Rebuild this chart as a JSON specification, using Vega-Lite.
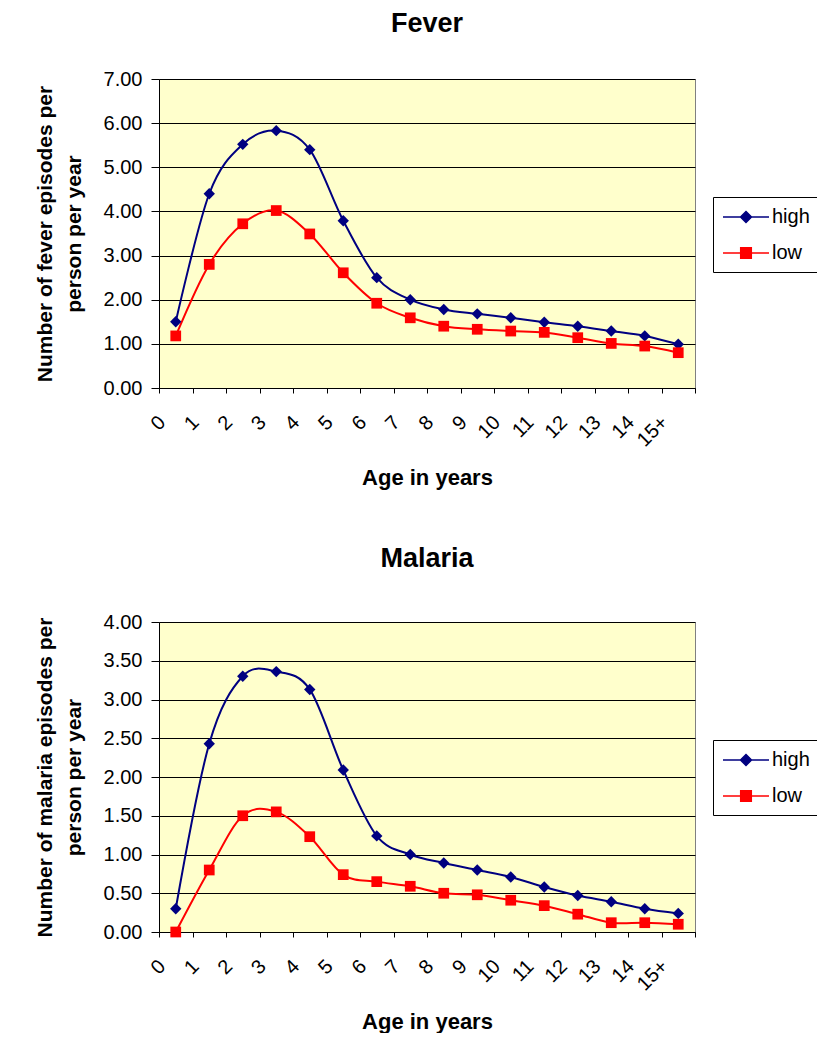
{
  "$schema": "https://vega.github.io/schema/vega-lite/v6.json",
  "padding": {"left": 33, "top": 9, "right": 0, "bottom": 0},
  "background": "white",
  "config": {
    "font": "Liberation Sans",
    "view": {"fill": "#FFFFCC", "stroke": "#808080", "strokeWidth": 1},
    "axis": {
      "labelFont": "Liberation Sans", "titleFont": "Liberation Sans",
      "labelColor": "black", "titleColor": "black",
      "domainColor": "black", "tickColor": "black", "gridColor": "black",
      "gridOpacity": 1, "gridWidth": 1, "domainWidth": 1, "tickWidth": 1,
      "labelFontSize": 20, "titleFontSize": 21, "titleFontWeight": "bold"
    },
    "title": {"fontSize": 27, "fontWeight": "bold", "color": "black", "anchor": "middle", "font": "Liberation Sans"},
    "legend": {
      "orient": "none", "legendX": 554, "legendY": 118,
      "strokeColor": "black", "padding": 9, "fillColor": "white",
      "labelFontSize": 20, "labelFont": "Liberation Sans", "labelColor": "black",
      "symbolSize": 400, "rowPadding": 15, "symbolOffset": 13, "labelOffset": 15
    }
  },
  "datasets": {
    "fever": [
      {"age": "0", "series": "high", "value": 1.5},
      {"age": "1", "series": "high", "value": 4.4},
      {"age": "2", "series": "high", "value": 5.52},
      {"age": "3", "series": "high", "value": 5.83},
      {"age": "4", "series": "high", "value": 5.4},
      {"age": "5", "series": "high", "value": 3.79},
      {"age": "6", "series": "high", "value": 2.5},
      {"age": "7", "series": "high", "value": 2.0},
      {"age": "8", "series": "high", "value": 1.78},
      {"age": "9", "series": "high", "value": 1.68},
      {"age": "10", "series": "high", "value": 1.59},
      {"age": "11", "series": "high", "value": 1.49},
      {"age": "12", "series": "high", "value": 1.4},
      {"age": "13", "series": "high", "value": 1.29},
      {"age": "14", "series": "high", "value": 1.18},
      {"age": "15+", "series": "high", "value": 0.99},
      {"age": "0", "series": "low", "value": 1.18},
      {"age": "1", "series": "low", "value": 2.8},
      {"age": "2", "series": "low", "value": 3.72},
      {"age": "3", "series": "low", "value": 4.02},
      {"age": "4", "series": "low", "value": 3.49},
      {"age": "5", "series": "low", "value": 2.61},
      {"age": "6", "series": "low", "value": 1.92},
      {"age": "7", "series": "low", "value": 1.59},
      {"age": "8", "series": "low", "value": 1.4},
      {"age": "9", "series": "low", "value": 1.33},
      {"age": "10", "series": "low", "value": 1.29},
      {"age": "11", "series": "low", "value": 1.26},
      {"age": "12", "series": "low", "value": 1.14},
      {"age": "13", "series": "low", "value": 1.01},
      {"age": "14", "series": "low", "value": 0.95},
      {"age": "15+", "series": "low", "value": 0.8}
    ],
    "malaria": [
      {"age": "0", "series": "high", "value": 0.3},
      {"age": "1", "series": "high", "value": 2.43},
      {"age": "2", "series": "high", "value": 3.3},
      {"age": "3", "series": "high", "value": 3.36},
      {"age": "4", "series": "high", "value": 3.13},
      {"age": "5", "series": "high", "value": 2.09},
      {"age": "6", "series": "high", "value": 1.24},
      {"age": "7", "series": "high", "value": 1.0},
      {"age": "8", "series": "high", "value": 0.89},
      {"age": "9", "series": "high", "value": 0.8},
      {"age": "10", "series": "high", "value": 0.71},
      {"age": "11", "series": "high", "value": 0.58},
      {"age": "12", "series": "high", "value": 0.47},
      {"age": "13", "series": "high", "value": 0.39},
      {"age": "14", "series": "high", "value": 0.3},
      {"age": "15+", "series": "high", "value": 0.24},
      {"age": "0", "series": "low", "value": 0.0},
      {"age": "1", "series": "low", "value": 0.8},
      {"age": "2", "series": "low", "value": 1.5},
      {"age": "3", "series": "low", "value": 1.55},
      {"age": "4", "series": "low", "value": 1.23},
      {"age": "5", "series": "low", "value": 0.74},
      {"age": "6", "series": "low", "value": 0.65},
      {"age": "7", "series": "low", "value": 0.59},
      {"age": "8", "series": "low", "value": 0.5},
      {"age": "9", "series": "low", "value": 0.48},
      {"age": "10", "series": "low", "value": 0.41},
      {"age": "11", "series": "low", "value": 0.34},
      {"age": "12", "series": "low", "value": 0.23},
      {"age": "13", "series": "low", "value": 0.12},
      {"age": "14", "series": "low", "value": 0.12},
      {"age": "15+", "series": "low", "value": 0.1}
    ]
  },
  "spacing": 55,
  "resolve": {"scale": {"color": "independent"}, "legend": {"color": "independent"}},
  "vconcat": [
    {
      "title": {"text": "Fever", "offset": 31},
      "width": 536, "height": 309,
      "data": {"name": "fever"},
      "encoding": {
        "x": {
          "field": "age", "type": "ordinal", "bandPosition": 0.5,
          "sort": ["0","1","2","3","4","5","6","7","8","9","10","11","12","13","14","15+"],
          "scale": {"type": "band", "paddingInner": 0, "paddingOuter": 0},
          "axis": {"title": "Age in years", "titleFontSize": 22, "titlePadding": 17, "labelAngle": -45, "labelAlign": "right", "labelBaseline": "middle", "labelOffset": -14, "labelPadding": 26, "tickSize": 5, "tickBand": "extent", "grid": false}
        },
        "y": {
          "field": "value", "type": "quantitative",
          "scale": {"domain": [0, 7], "nice": false},
          "axis": {"title": ["Number of fever episodes per", "person per year"], "titleLineHeight": 29, "titlePadding": 19, "values": [0,1,2,3,4,5,6,7], "format": ".2f", "tickSize": 8, "labelPadding": 9, "grid": true}
        },
        "color": {
          "field": "series", "type": "nominal",
          "scale": {"domain": ["high", "low"], "range": ["#000080", "#FF0000"]},
          "legend": {
            "title": null,
            "encode": {"symbols": {"update": {
              "shape": {"signal": "datum.value === 'high' ? 'M-2.3,0H2.3M0,-0.55L0.55,0L0,0.55L-0.55,0Z' : 'M-2.3,0H2.3M-0.53,-0.53H0.53V0.53H-0.53Z'"},
              "fill": {"signal": "datum.value === 'high' ? '#000080' : '#FF0000'"},
              "stroke": {"signal": "datum.value === 'high' ? '#000080' : '#FF0000'"},
              "strokeWidth": {"value": 1.5},
              "opacity": {"value": 1}
            }}}
          }
        }
      },
      "layer": [
        {"mark": {"type": "line", "interpolate": "cardinal", "tension": 0, "strokeWidth": 2}},
        {
          "transform": [{"filter": "datum.series === 'high'"}],
          "mark": {"type": "point", "shape": "diamond", "filled": true, "opacity": 1, "size": 130}
        },
        {
          "transform": [{"filter": "datum.series === 'low'"}],
          "mark": {"type": "point", "shape": "square", "filled": true, "opacity": 1, "size": 115}
        }
      ]
    },
    {
      "title": {"text": "Malaria", "offset": 39},
      "width": 536, "height": 310,
      "data": {"name": "malaria"},
      "encoding": {
        "x": {
          "field": "age", "type": "ordinal", "bandPosition": 0.5,
          "sort": ["0","1","2","3","4","5","6","7","8","9","10","11","12","13","14","15+"],
          "scale": {"type": "band", "paddingInner": 0, "paddingOuter": 0},
          "axis": {"title": "Age in years", "titleFontSize": 22, "titlePadding": 17, "labelAngle": -45, "labelAlign": "right", "labelBaseline": "middle", "labelOffset": -14, "labelPadding": 26, "tickSize": 5, "tickBand": "extent", "grid": false}
        },
        "y": {
          "field": "value", "type": "quantitative",
          "scale": {"domain": [0, 4], "nice": false},
          "axis": {"title": ["Number of malaria episodes per", "person per year"], "titleLineHeight": 29, "titlePadding": 19, "values": [0,0.5,1,1.5,2,2.5,3,3.5,4], "format": ".2f", "tickSize": 8, "labelPadding": 9, "grid": true}
        },
        "color": {
          "field": "series", "type": "nominal",
          "scale": {"domain": ["high", "low"], "range": ["#000080", "#FF0000"]},
          "legend": {
            "title": null,
            "encode": {"symbols": {"update": {
              "shape": {"signal": "datum.value === 'high' ? 'M-2.3,0H2.3M0,-0.55L0.55,0L0,0.55L-0.55,0Z' : 'M-2.3,0H2.3M-0.53,-0.53H0.53V0.53H-0.53Z'"},
              "fill": {"signal": "datum.value === 'high' ? '#000080' : '#FF0000'"},
              "stroke": {"signal": "datum.value === 'high' ? '#000080' : '#FF0000'"},
              "strokeWidth": {"value": 1.5},
              "opacity": {"value": 1}
            }}}
          }
        }
      },
      "layer": [
        {"mark": {"type": "line", "interpolate": "cardinal", "tension": 0, "strokeWidth": 2}},
        {
          "transform": [{"filter": "datum.series === 'high'"}],
          "mark": {"type": "point", "shape": "diamond", "filled": true, "opacity": 1, "size": 130}
        },
        {
          "transform": [{"filter": "datum.series === 'low'"}],
          "mark": {"type": "point", "shape": "square", "filled": true, "opacity": 1, "size": 115}
        }
      ]
    }
  ]
}
